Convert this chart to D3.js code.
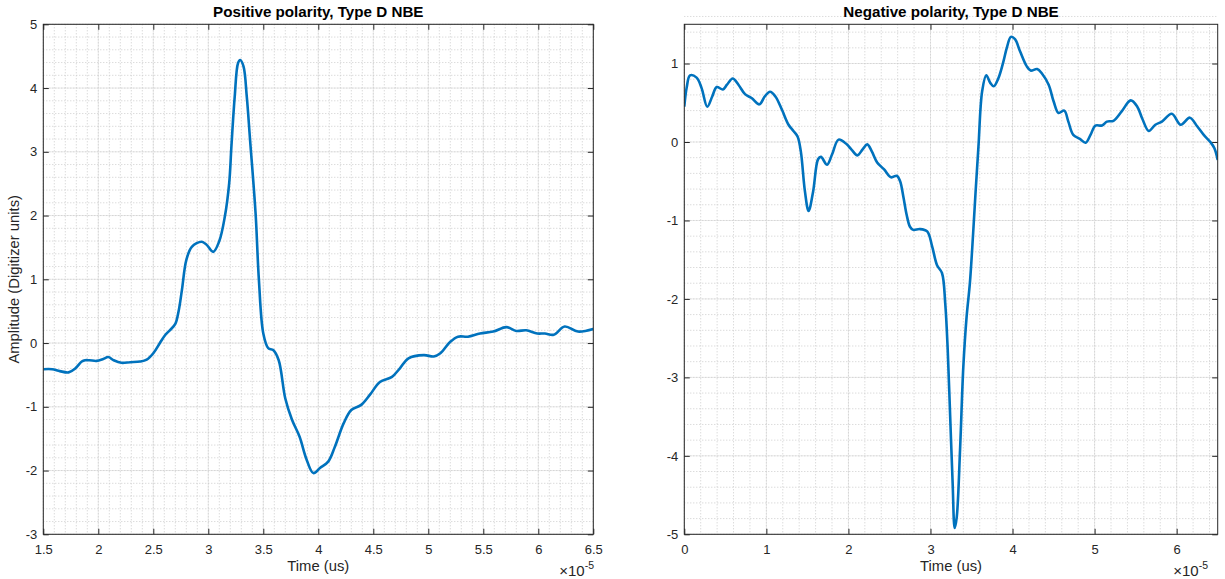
<!DOCTYPE html>
<html>
<head>
<meta charset="utf-8">
<script src="https://cdn.jsdelivr.net/npm/d3@7"></script>
<style>
  html, body { margin: 0; padding: 0; background: #fff; }
  svg { display: block; font-family: "Liberation Sans", Arial, Helvetica, sans-serif; }
</style>
</head>
<body>
<svg id="chart" width="1225" height="579"></svg>
<script>
// Time axis values are in units of 1e-5 s (shown with a ×10^-5 multiplier).
const posTime = [1.50,1.58,1.65,1.73,1.79,1.85,1.88,1.92,1.985,2.045,2.09,2.14,2.21,2.29,2.38,2.44,2.50,2.56,2.61,2.65,2.70,2.73,2.76,2.80,2.85,2.94,2.985,3.045,3.10,3.15,3.19,3.21,3.24,3.27,3.29,3.32,3.35,3.38,3.43,3.46,3.50,3.545,3.59,3.64,3.70,3.76,3.83,3.89,3.955,4.015,4.09,4.15,4.23,4.30,4.39,4.47,4.56,4.67,4.74,4.82,4.96,5.05,5.11,5.20,5.27,5.36,5.47,5.59,5.71,5.80,5.89,5.99,6.06,6.14,6.24,6.36,6.50];
const posAmp  = [-0.41,-0.41,-0.44,-0.46,-0.40,-0.29,-0.27,-0.27,-0.28,-0.25,-0.22,-0.27,-0.31,-0.30,-0.29,-0.26,-0.16,0.00,0.13,0.20,0.30,0.50,0.83,1.30,1.51,1.59,1.54,1.43,1.60,1.98,2.51,3.08,3.86,4.39,4.44,4.34,3.86,3.18,2.03,0.99,0.15,-0.08,-0.11,-0.27,-0.87,-1.20,-1.47,-1.81,-2.04,-1.96,-1.86,-1.63,-1.26,-1.05,-0.97,-0.81,-0.61,-0.53,-0.40,-0.24,-0.19,-0.21,-0.16,0.02,0.10,0.10,0.15,0.18,0.25,0.19,0.20,0.15,0.15,0.13,0.26,0.18,0.22];

const negTime = [0.00,0.03,0.07,0.15,0.21,0.28,0.34,0.395,0.47,0.52,0.59,0.66,0.74,0.82,0.915,0.98,1.045,1.11,1.19,1.27,1.33,1.38,1.42,1.47,1.515,1.57,1.63,1.665,1.74,1.80,1.88,1.98,2.04,2.11,2.175,2.23,2.285,2.35,2.435,2.52,2.59,2.63,2.67,2.71,2.75,2.79,2.87,2.96,3.02,3.08,3.14,3.18,3.21,3.24,3.27,3.295,3.32,3.36,3.40,3.44,3.48,3.52,3.55,3.585,3.63,3.68,3.73,3.77,3.83,3.89,3.93,3.98,4.03,4.09,4.17,4.22,4.30,4.36,4.44,4.50,4.56,4.63,4.68,4.74,4.82,4.89,4.95,5.01,5.09,5.15,5.23,5.33,5.44,5.52,5.58,5.66,5.74,5.82,5.94,6.05,6.16,6.25,6.33,6.41,6.46,6.50];
const negAmp  = [0.45,0.70,0.85,0.82,0.69,0.45,0.58,0.70,0.67,0.73,0.81,0.73,0.61,0.56,0.48,0.58,0.64,0.58,0.41,0.22,0.14,0.07,-0.12,-0.63,-0.88,-0.63,-0.22,-0.19,-0.29,-0.16,0.03,-0.03,-0.10,-0.17,-0.09,-0.03,-0.12,-0.26,-0.35,-0.45,-0.43,-0.50,-0.70,-0.93,-1.08,-1.12,-1.11,-1.14,-1.33,-1.57,-1.67,-2.06,-2.65,-3.50,-4.35,-4.92,-4.78,-3.93,-2.87,-2.23,-1.80,-1.16,-0.63,-0.05,0.65,0.85,0.75,0.71,0.82,1.03,1.20,1.34,1.31,1.16,0.97,0.91,0.93,0.87,0.73,0.52,0.37,0.40,0.26,0.09,0.04,-0.01,0.09,0.21,0.21,0.26,0.27,0.39,0.53,0.45,0.30,0.14,0.22,0.26,0.36,0.22,0.31,0.20,0.09,0.00,-0.08,-0.23];

const posXTicks = [1.5,2,2.5,3,3.5,4,4.5,5,5.5,6,6.5];
const posYTicks = [-3,-2,-1,0,1,2,3,4,5];
const negXTicks = [0,1,2,3,4,5,6];
const negYTicks = [-5,-4,-3,-2,-1,0,1];

const titles = ["Positive polarity, Type D NBE", "Negative polarity, Type D NBE"];
const xLabel = "Time (us)";
const yLabel = "Amplitude (Digitizer units)";

const svg = d3.select("#chart");
const axisColor = "#262626";
const lineColor = "#0072BD";

function panel(opts) {
  const { left, right, top, bottom, xDomain, yDomain, xTicks, yTicks, xMinorStep, yMinorStep,
          time, amp, title, yLab, expRight, id } = opts;
  const x = d3.scaleLinear().domain(xDomain).range([left, right]);
  const y = d3.scaleLinear().domain(yDomain).range([bottom, top]);
  const g = svg.append("g");

  // major (solid, faint) and minor (dotted) grid
  const xMinor = d3.range(Math.round((xDomain[1] - xDomain[0]) / xMinorStep) + 1).map(i => xDomain[0] + i * xMinorStep);
  const yMinor = d3.range(Math.round((yDomain[1] - yDomain[0]) / yMinorStep) + 1).map(i => yDomain[0] + i * yMinorStep);
  const grid = g.append("g");
  grid.selectAll(".gx").data(xTicks).enter().append("line")
    .attr("x1", d => x(d)).attr("x2", d => x(d)).attr("y1", top).attr("y2", bottom)
    .attr("stroke", "#ebebeb").attr("stroke-width", 1);
  grid.selectAll(".gy").data(yTicks).enter().append("line")
    .attr("y1", d => y(d)).attr("y2", d => y(d)).attr("x1", left).attr("x2", right)
    .attr("stroke", "#ebebeb").attr("stroke-width", 1);
  grid.selectAll(".mx").data(xMinor).enter().append("line")
    .attr("x1", d => x(d)).attr("x2", d => x(d)).attr("y1", top).attr("y2", bottom)
    .attr("stroke", "#cccccc").attr("stroke-width", 1).attr("stroke-dasharray", "1,2");
  grid.selectAll(".my").data(yMinor).enter().append("line")
    .attr("y1", d => y(d)).attr("y2", d => y(d)).attr("x1", left).attr("x2", right)
    .attr("stroke", "#cccccc").attr("stroke-width", 1).attr("stroke-dasharray", "1,2");

  // data line
  svg.append("clipPath").attr("id", id).append("rect")
    .attr("x", left).attr("y", top).attr("width", right - left).attr("height", bottom - top);
  const pts = time.map((t, i) => [t, amp[i]]);
  g.append("path")
    .attr("clip-path", `url(#${id})`)
    .attr("d", d3.line().x(d => x(d[0])).y(d => y(d[1])).curve(d3.curveCatmullRom.alpha(0.5))(pts))
    .attr("fill", "none").attr("stroke", lineColor).attr("stroke-width", 2.6)
    .attr("stroke-linejoin", "round");

  // axes (ticks point inward, box on)
  const tl = 5.5;
  const fmt = d => String(d);
  const axB = g.append("g").attr("transform", `translate(0,${bottom})`)
    .call(d3.axisBottom(x).tickValues(xTicks).tickSize(-tl).tickPadding(10).tickFormat(fmt));
  const axT = g.append("g").attr("transform", `translate(0,${top})`)
    .call(d3.axisTop(x).tickValues(xTicks).tickSize(-tl).tickFormat(""));
  const axL = g.append("g").attr("transform", `translate(${left},0)`)
    .call(d3.axisLeft(y).tickValues(yTicks).tickSize(-tl).tickPadding(6).tickFormat(fmt));
  const axR = g.append("g").attr("transform", `translate(${right},0)`)
    .call(d3.axisRight(y).tickValues(yTicks).tickSize(-tl).tickFormat(""));
  [axB, axT, axL, axR].forEach(a => {
    a.selectAll(".tick line").attr("stroke", axisColor).attr("stroke-width", 1);
    a.selectAll(".tick text").attr("fill", axisColor).style("font-size", "13px")
      .style("font-family", "'Liberation Sans', Arial, sans-serif");
    a.select(".domain").remove();
  });
  g.append("rect").attr("x", left).attr("y", top).attr("width", right - left).attr("height", bottom - top)
    .attr("fill", "none").attr("stroke", axisColor).attr("stroke-width", 1);

  // title
  g.append("text").attr("x", (left + right) / 2).attr("y", top - 7)
    .attr("text-anchor", "middle").attr("fill", "#000")
    .style("font-size", "15.2px").style("font-weight", "bold").text(title);

  // x label
  g.append("text").attr("x", (left + right) / 2).attr("y", 571)
    .attr("text-anchor", "middle").attr("fill", axisColor)
    .style("font-size", "14.8px").text(xLabel);

  // exponent multiplier
  const ex = g.append("text").attr("x", expRight).attr("y", 576)
    .attr("text-anchor", "end").attr("fill", axisColor).style("font-size", "15px");
  ex.append("tspan").text("\u00d710");
  ex.append("tspan").attr("dy", -7).style("font-size", "10.5px").text("-5");

  if (yLab) {
    g.append("text").attr("transform", `translate(19,${(top + bottom) / 2}) rotate(-90)`)
      .attr("text-anchor", "middle").attr("fill", axisColor)
      .style("font-size", "14.8px").text(yLab);
  }
}

panel({
  id: "clipPos", left: 43.3, right: 593.3, top: 24.3, bottom: 534.3,
  xDomain: [1.5, 6.5], yDomain: [-3, 5], xTicks: posXTicks, yTicks: posYTicks,
  xMinorStep: 0.1, yMinorStep: 0.2, time: posTime, amp: posAmp,
  title: titles[0], yLab: yLabel, expRight: 594
});

panel({
  id: "clipNeg", left: 684.3, right: 1217.7, top: 24.3, bottom: 534.3,
  xDomain: [0, 6.5], yDomain: [-5, 1.5], xTicks: negXTicks, yTicks: negYTicks,
  xMinorStep: 0.2, yMinorStep: 0.2, time: negTime, amp: negAmp,
  title: titles[1], yLab: null, expRight: 1208
});
</script>
</body>
</html>
